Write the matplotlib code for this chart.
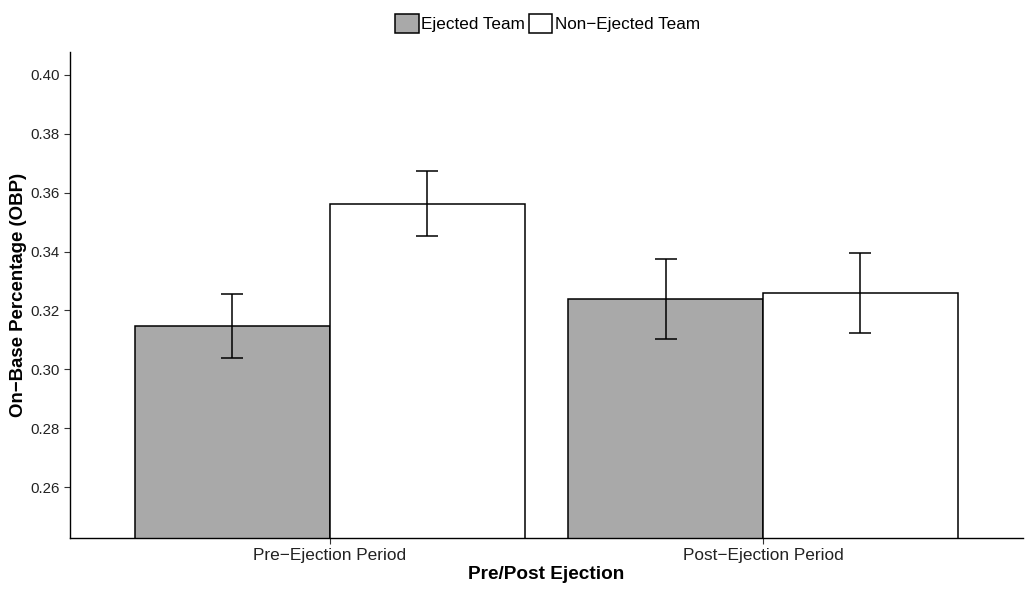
import numpy as np
import matplotlib.pyplot as plt
from matplotlib.patches import Patch

plt.rcParams['font.family'] = ['Liberation Sans', 'DejaVu Sans']

# datos
periodos = ['Pre\u2212Ejection Period', 'Post\u2212Ejection Period']
equipos = ['Ejected Team', 'Non\u2212Ejected Team']
obp_ejected = [0.3148, 0.3240]
obp_non_ejected = [0.3563, 0.3260]
err_ejected = [0.0109, 0.0136]
err_non_ejected = [0.0111, 0.0136]
colores = ['#A9A9A9', '#FFFFFF']

fig = plt.figure(figsize=(10.29, 5.92), dpi=100)
ax = fig.add_axes([0.068, 0.0912, 0.926, 0.821])

x = np.arange(1, len(periodos) + 1)
ancho = 0.45
series = [(obp_ejected, err_ejected), (obp_non_ejected, err_non_ejected)]
for i, (vals, errs) in enumerate(series):
    pos = x - ancho / 2 + i * ancho
    ax.bar(pos, vals, width=ancho, color=colores[i], edgecolor='black',
           linewidth=1.1, zorder=2)
    ax.errorbar(pos, vals, yerr=errs, fmt='none', ecolor='black',
                elinewidth=1.1, capsize=7.9, capthick=1.1, zorder=3)

ax.set_xlim(0.4, 2.6)
ax.set_ylim(0.2427, 0.4078)
ax.set_xticks(x)
ax.set_xticklabels(periodos, fontsize=12.4, color='#222222')
ax.set_yticks([0.26, 0.28, 0.30, 0.32, 0.34, 0.36, 0.38, 0.40])
ax.set_yticklabels(['0.26', '0.28', '0.30', '0.32', '0.34', '0.36', '0.38', '0.40'],
                   fontsize=10.8, color='#222222')
ax.tick_params(axis='both', length=4, width=0.8, colors='#333333', labelcolor='#222222')
ax.tick_params(axis='x', pad=3)
ax.set_xlabel('Pre/Post Ejection', fontsize=13.7, fontweight='bold', labelpad=2)
ax.set_ylabel('On\u2212Base Percentage (OBP)', fontsize=13.4, fontweight='bold', labelpad=2)

for lado in ['top', 'right']:
    ax.spines[lado].set_visible(False)
for lado in ['left', 'bottom']:
    ax.spines[lado].set_linewidth(1.0)
    ax.spines[lado].set_color('black')

handles = [Patch(facecolor=colores[i], edgecolor='black', linewidth=1.1, label=equipos[i])
           for i in range(2)]
fig.legend(handles=handles, loc='upper center', bbox_to_anchor=(0.532, 1.003), ncol=2,
           frameon=False, fontsize=12.3, handlelength=1.4, handleheight=1.4,
           handletextpad=0.15, columnspacing=0.2)

plt.savefig('out.png', dpi=100)
